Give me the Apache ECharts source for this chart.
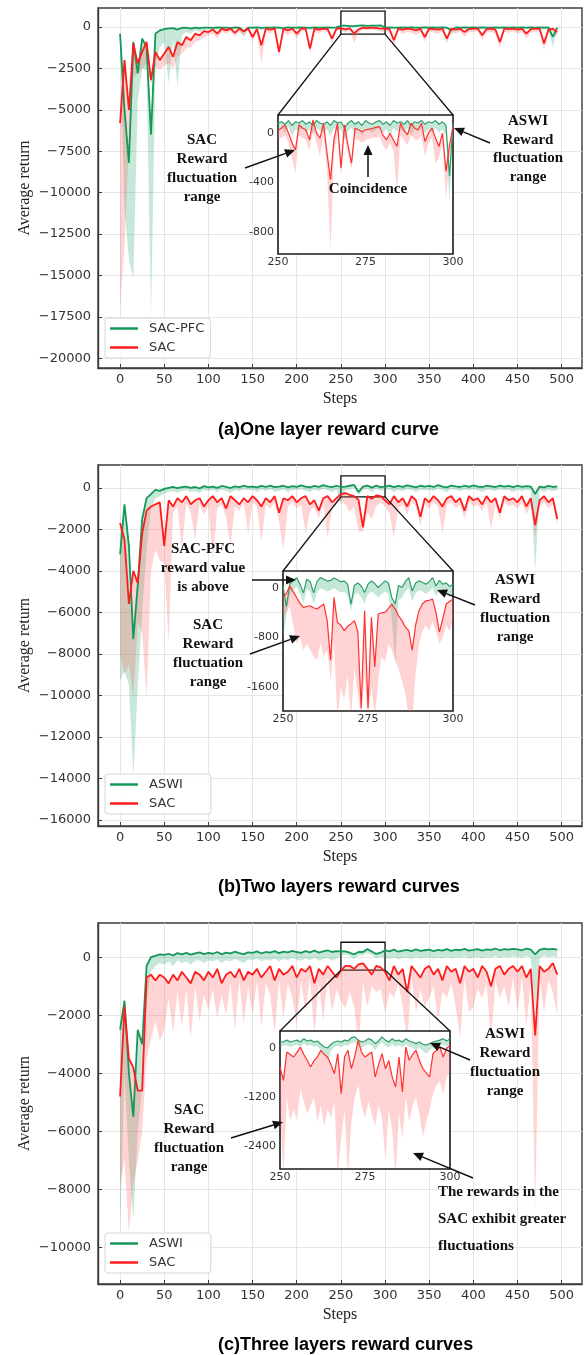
<!DOCTYPE html>
<html lang="en">
<head>
<meta charset="UTF-8">
<title>Reward curves</title>
<script src="https://cdn.jsdelivr.net/npm/echarts@6/dist/echarts.min.js"></script>
<style>
    html, body { margin: 0; padding: 0; background: #fff; }
    #chart { width: 587px; height: 1355px; }
</style>
</head>
<body>
<div id="chart"></div>
<script>
// ---- tick labels ----
var mainXTicks = [0, 50, 100, 150, 200, 250, 300, 350, 400, 450, 500];
var aYTicks = [0, -2500, -5000, -7500, -10000, -12500, -15000, -17500, -20000];
var bYTicks = [0, -2000, -4000, -6000, -8000, -10000, -12000, -14000, -16000];
var cYTicks = [0, -2000, -4000, -6000, -8000, -10000];
var aInsetYTicks = [0, -400, -800];
var bInsetYTicks = [0, -800, -1600];
var cInsetYTicks = [0, -1200, -2400];

// ---- (a) one layer, main chart, sampled every 5 steps (0..495) ----
var aGreen = [
    -400, -5000, -8200, -900, -2800, -700, -1200, -6500, -400, -200,
    -120, -80, -60, -150, -50, -40, -90, -30, -60, -40,
    -30, -50, -20, -40, -30, -60, -20, -30, -250, -40,
    -30, -20, -50, -30, -40, -20, -30, -60, -20, -30,
    -40, -20, -30, -50, -20, -30, -40, -20, -30, -20,
    80, 90, 60, 60, 80, 100, 70, 90, 80, 100,
    -30, -20, -30, -40, -20, -30, -20, -30, -40, -20,
    -30, -20, -40, -20, -30, -200, -20, -30, -20, -40,
    -20, -30, -20, -40, -30, -20, -30, -20, -30, -20,
    -40, -20, -30, -20, -30, -20, -40, -20, -600, -30
];
var aGreenLow = [
    -1500, -11000, -14000, -15200, -4500, -2500, -2600, -17500, -2500, -1200,
    -900, -3400, -700, -3600, -500, -300, -400, -200, -300, -200,
    -150, -200, -100, -150, -120, -200, -100, -150, -600, -150,
    -120, -100, -200, -120, -150, -100, -120, -200, -100, -120,
    -150, -100, -120, -200, -100, -120, -150, -100, -120, -100,
    20, 30, -10, -20, 20, 40, 0, 30, 10, 40,
    -120, -100, -120, -150, -100, -120, -100, -120, -150, -100,
    -120, -100, -150, -100, -120, -500, -100, -120, -100, -150,
    -100, -120, -100, -150, -120, -100, -120, -100, -120, -100,
    -150, -100, -120, -100, -120, -100, -150, -100, -1200, -120
];
var aRed = [
    -5800, -2000, -5000, -1000, -2200, -1500, -900, -3200, -1500, -2000,
    -1600, -1200, -1800, -900, -1100, -600, -800, -400, -500, -250,
    -300, -150, -400, -100, -200, -80, -350, -100, -250, -90,
    -600, -120, -1100, -100, -150, -80, -1500, -100, -200, -90,
    -400, -100, -80, -1300, -100, -150, -90, -120, -700, -100,
    -60, -140, -80, -380, -150, -40, -60, -30, -50, -100,
    -100, -120, -800, -90, -150, -100, -120, -200, -100, -600,
    -90, -120, -150, -100, -700, -90, -150, -100, -300, -120,
    -100, -90, -500, -120, -100, -150, -900, -100, -120, -90,
    -150, -100, -400, -120, -100, -90, -1000, -150, -100, -300
];
var aRedLow = [
    -17000, -13200, -7000, -3000, -2800, -2500, -2200, -3500, -2400, -2600,
    -2300, -2200, -2500, -1800, -1600, -1300, -1200, -900, -800, -600,
    -500, -400, -700, -300, -400, -250, -600, -300, -500, -200,
    -900, -300, -2200, -250, -400, -200, -1800, -300, -500, -250,
    -700, -300, -200, -1600, -300, -400, -250, -300, -1000, -250,
    -200, -330, -200, -960, -350, -150, -200, -150, -200, -250,
    -300, -350, -1100, -250, -400, -300, -350, -500, -300, -900,
    -250, -350, -400, -300, -1000, -250, -400, -300, -600, -300,
    -300, -250, -800, -350, -300, -400, -1300, -300, -350, -250,
    -400, -300, -700, -350, -300, -250, -1400, -400, -300, -600
];

// ---- (b) two layers, main chart ----
var bGreen = [
    -3200, -800, -2800, -7300, -4700, -1500, -500, -300, -100, -150,
    -50, 0, 50, -20, 30, 60, 0, 40, -30, 80,
    20, 60, 0, 90, 40, -10, 70, 30, 100, 50,
    60, 20, 90, 40, 110, 30, 60, 100, 20, 80,
    50, 120, 60, 20, 90, 40, 130, 70, 30, 100,
    40, 60, 100, 140, -200, 60, 110, 10, 110, 30,
    60, 110, 30, 90, 50, 120, 70, 20, 100, 60,
    90, 40, 130, 60, 20, 110, 70, 40, 100, 50,
    120, 60, 30, 100, 70, 40, 110, 60, 90, 30,
    100, 50, 80, 60, -300, 60, 20, 90, 40, 70
];
var bGreenLow = [
    -9300, -8800, -9500, -13900, -9600, -6000, -3000, -1000, -500, -400,
    -300, -200, -150, -250, -150, -100, -200, -150, -250, -100,
    -150, -100, -200, -80, -150, -250, -100, -150, -80, -100,
    -100, -200, -80, -150, -60, -200, -150, -80, -200, -100,
    -120, -60, -150, -200, -80, -150, -50, -100, -200, -80,
    -800, -100, -80, 0, -370, -100, -60, -200, -40, -140,
    -120, -60, -200, -100, -150, -60, -100, -200, -80, -120,
    -100, -150, -50, -120, -200, -60, -100, -150, -80, -120,
    -60, -120, -200, -80, -100, -150, -60, -120, -100, -200,
    -80, -150, -100, -120, -4000, -120, -200, -100, -150, -120
];
var bRed = [
    -1700, -2500, -5600, -4000, -4600, -2200, -1100, -900, -800, -700,
    -2800, -600, -900, -500, -700, -400, -800, -600, -500, -900,
    -600, -400, -700, -500, -1000, -400, -600, -800, -500, -700,
    -400, -600, -900, -500, -700, -400, -1200, -500, -600, -400,
    -700, -500, -400, -800, -600, -1100, -500, -400, -700, -500,
    -300, -250, -340, -400, -580, -1900, -400, -530, -370, -400,
    -600, -800, -400, -700, -500, -900, -400, -600, -1400, -500,
    -700, -400, -600, -900, -500, -400, -700, -500, -1100, -400,
    -600, -500, -800, -400, -700, -500, -1200, -400, -600, -500,
    -700, -400, -900, -500, -1800, -600, -400, -700, -500, -1500
];
var bRedLow = [
    -8000, -9000, -8500, -10100, -6500, -7000, -10100, -4000, -3000, -3500,
    -3600, -7400, -1200, -900, -3000, -700, -1200, -2500, -800, -1300,
    -900, -3500, -1000, -800, -1400, -2800, -900, -1100, -700, -2200,
    -700, -900, -2600, -800, -1000, -700, -1600, -3000, -900, -700,
    -1000, -800, -2200, -1100, -900, -1500, -700, -2400, -1000, -800,
    -600, -800, -1170, -900, -2100, -2100, -1200, -1500, -900, -700,
    -900, -1200, -2400, -1000, -800, -1300, -700, -900, -1800, -800,
    -1000, -700, -900, -2200, -800, -700, -1000, -800, -1500, -700,
    -900, -800, -1100, -700, -2000, -800, -1500, -700, -900, -800,
    -1000, -700, -1300, -800, -2400, -900, -700, -1000, -800, -1800
];

// ---- (c) three layers, main chart ----
var cGreen = [
    -2500, -1500, -4000, -5500, -2500, -3000, -300, 0, 50, 100,
    80, 120, 60, 140, 100, 150, 90, 130, 170, 110,
    150, 120, 180, 100, 160, 130, 190, 140, 110, 170,
    150, 200, 130, 180, 160, 210, 140, 190, 170, 220,
    180, 150, 210, 170, 230, 160, 200, 240, 180, 210,
    200, 200, 155, 100, 180, 180, 280, 200, 114, 155,
    240, 200, 260, 190, 230, 250, 210, 270, 220, 240,
    260, 210, 250, 230, 280, 220, 260, 240, 290, 230,
    250, 280, 230, 270, 250, 300, 240, 280, 260, 290,
    270, 240, 300, 260, 100, 250, 300, 270, 290, 260
];
var cGreenLow = [
    -9500, -4000, -7000, -9000, -6000, -4500, -1500, -500, -300, -200,
    -250, -150, -300, -100, -200, -150, -250, -120, -100, -200,
    -100, -150, -80, -200, -100, -150, -60, -120, -200, -80,
    -100, -50, -150, -80, -120, -40, -150, -60, -100, -30,
    -80, -120, -40, -100, -20, -120, -60, -30, -100, -50,
    40, 90, 40, -60, 60, 60, 150, 80, -40, 20,
    -20, -60, 0, -80, -30, -20, -60, 10, -40, -20,
    0, -50, -10, -40, 20, -50, 0, -30, 30, -40,
    -20, 20, -40, 10, -20, 40, -30, 20, -10, 30,
    10, -30, 40, -10, -1800, -20, 50, 0, 30, -10
];
var cRed = [
    -4800, -1700, -3500, -3800, -4600, -4600, -700, -600, -800, -600,
    -700, -900, -600, -800, -500, -700, -900, -500, -600, -800,
    -500, -700, -400, -900, -600, -500, -700, -400, -800, -500,
    -600, -400, -700, -500, -300, -800, -400, -600, -500, -300,
    -700, -400, -500, -300, -900, -400, -600, -300, -500, -700,
    -460, -300, -300, -400, -250, -210, -400, -600, -300, -350,
    -500, -800, -300, -600, -400, -1200, -300, -500, -700, -400,
    -300, -600, -400, -800, -300, -500, -400, -900, -300, -500,
    -400, -700, -300, -500, -1000, -400, -300, -600, -400, -300,
    -500, -300, -700, -400, -2700, -300, -500, -400, -200, -600
];
var cRedLow = [
    -7900, -7000, -9500, -7800, -7000, -6000, -3500, -2800, -2200, -2870,
    -2500, -1400, -2600, -1200, -2400, -1100, -2800, -1000, -2200, -1300,
    -1800, -1100, -2100, -1300, -2000, -900, -2500, -800, -2300, -1000,
    -2000, -800, -2400, -900, -1300, -2600, -800, -2100, -900, -1400,
    -2300, -800, -1900, -700, -2700, -900, -2200, -700, -1900, -1100,
    -1500, -1765, -1200, -1700, -3100, -900, -1700, -1000, -1200, -1100,
    -1900, -1200, -1400, -900, -1700, -3000, -700, -1900, -1100, -1700,
    -1400, -1000, -2200, -1200, -1400, -900, -1700, -2800, -700, -1900,
    -1700, -1100, -1400, -900, -2900, -800, -1400, -1000, -1700, -700,
    -1900, -700, -2400, -800, -8700, -700, -1900, -800, -1200, -2000
];

// ---- zoomed insets, steps 250..300 ----
var iaGreen = [
    80, 90, 70, 100, 60, 90, 80, 100, 70, 90,
    60, 100, 80, 70, 90, 60, 100, 80, 90, 40,
    80, 100, 70, 90, 60, 100, 80, 70, 90, 100,
    70, 90, 60, 100, 80, 90, 70, 100, 60, 90,
    80, 100, 70, 90, 80, 100, 70, 90, 60, -350, 80
];
var iaGreenLow = [
    20, 40, 0, 50, -20, 30, 20, 40, 0, 30,
    -10, 40, 20, 0, 30, -20, 40, 10, 30, -60,
    20, 40, 0, 30, -20, 40, 20, 0, 30, 40,
    0, 30, -20, 40, 10, 30, 0, 40, -20, 30,
    10, 40, 0, 30, 10, 40, 0, 30, -20, -560, 20
];
var iaRed = [
    20, 40, 65, 0, -80, -137, 65, 40, 25, -56,
    105, 0, -43, 78, -164, -379, -50, 78, -285, 65,
    -100, -245, 38, 25, 10, 25, 30, 38, 45, 51,
    -20, -56, -2, -60, -110, 78, 20, -16, 78, 40,
    25, 78, -70, 0, 38, -40, -110, -2, -312, -100, 51
];
var iaRedLow = [
    -60, -40, -20, -80, -200, -325, -20, -40, -60, -140,
    20, -80, -191, -20, -300, -957, -150, -20, -352, -20,
    -180, -300, -50, -60, -80, -60, -50, -40, -40, -30,
    -100, -140, -80, -150, -487, -20, -60, -100, -20, -50,
    -60, -20, -191, -80, -40, -245, -200, -80, -540, -200, -30
];
var ibGreen = [
    30, -300, 60, 120, 165, 60, -80, 140, 100, -80,
    100, 165, 140, 110, 120, 160, 130, 100, 110, 60,
    -261, 40, 80, 30, -74, 60, 110, 70, 6, 60,
    112, 80, -154, -261, 40, 6, 100, 165, -50, 80,
    112, 90, 59, 100, 165, 30, 120, 59, 80, 20, 60
];
var ibGreenLow = [
    -800, -450, -100, -40, 20, -100, -250, -20, -60, -260,
    -80, 0, -30, -60, -40, 0, -40, -80, -60, -120,
    -370, -120, -80, -150, -250, -100, -60, -100, -160, -100,
    -60, -100, -500, -1220, -200, -160, -60, 0, -220, -80,
    -40, -60, -100, -60, 0, -140, -40, -100, -80, -150, -100
];
var ibRed = [
    -154, -90, 32, -60, -154, -250, -314, -300, -288, -320,
    -341, -300, -261, -528, -1168, -154, -554, -600, -688, -620,
    -581, -528, -700, -1940, -368, -1940, -474, -1274, -421, -400,
    -394, -330, -261, -341, -450, -528, -634, -688, -1007, -600,
    -368, -260, -208, -200, -181, -400, -714, -500, -261, -220, -181
];
var ibRedLow = [
    -500, -400, -300, -600, -900, -800, -1007, -900, -1000, -1100,
    -1168, -900, -1100, -1000, -1500, -900, -2100, -1600, -1800, -1400,
    -2100, -1300, -1700, -2100, -1400, -2100, -1600, -2100, -1500, -1100,
    -1200, -900, -1000, -1168, -1300, -1500, -1700, -2100, -2100, -1400,
    -900, -700, -600, -700, -528, -700, -900, -800, -600, -700, -500
];
var icGreen = [
    155, 160, 200, 155, 180, 200, 155, 237, 180, 200,
    155, 180, 100, 32, 11, 100, 155, 180, 155, 200,
    180, 260, 280, 200, 155, 180, 237, 200, 114, 180,
    280, 200, 155, 237, 180, 200, 155, 237, 180, 155,
    114, 155, 100, 80, 114, 155, 180, 200, 237, 180, 237
];
var icGreenLow = [
    40, 60, 80, 20, 60, 90, 40, 120, 60, 80,
    40, 50, -50, -150, -294, -60, 30, 60, 20, 80,
    60, 130, 150, 60, 20, 60, 100, 60, -40, 60,
    150, 60, 20, 100, 40, 80, 20, 100, 40, 20,
    -40, 20, -60, -131, -50, 20, 40, 80, 100, 40, 100
];
var icRed = [
    -458, -785, -90, -150, -213, -100, 32, -150, -294, -458,
    -300, -213, -49, -150, -213, -400, -621, -131, -1111, -200,
    -49, -499, -200, 196, -100, -213, -150, -90, -703, -400,
    -131, -499, -300, -700, -948, -213, -1071, 32, -294, -150,
    -49, -300, -499, -600, -703, -131, -50, 32, -213, 0, 73
];
var icRedLow = [
    -1500, -3100, -1200, -1765, -1500, -1765, -1000, -1300, -1600, -1400,
    -1200, -1800, -1400, -1900, -1500, -1700, -1300, -3100, -2200, -1500,
    -3100, -1800, -1200, -900, -1400, -1700, -1300, -1600, -1900, -1400,
    -1700, -2745, -1500, -2000, -3100, -1600, -2200, -1200, -1800, -1400,
    -1200, -1600, -2173, -1800, -1500, -1111, -900, -800, -1111, -700, -600
];

// sampling positions
var mainSteps = [], insetSteps = [];
for (var i = 0; i < aGreen.length; i++) mainSteps.push(i * 5);
for (var j = 250; j <= 300; j++) insetSteps.push(j);

var RED = '#ff1c1c', GREEN = '#14985a';
var SERIF = '"Liberation Serif", "DejaVu Serif", serif';

var panels = [
    {top: 8, height: 360, yMin: -20590, yMax: 1150, yTicks: aYTicks, greenName: 'SAC-PFC',
        green: aGreen, greenLow: aGreenLow, red: aRed, redLow: aRedLow, legendTop: 318,
        zoomBox: [-423, 966],
        inset: {left: 278, top: 115, width: 175, height: 139, yMin: -980, yMax: 145, yTicks: aInsetYTicks,
            green: iaGreen, greenLow: iaGreenLow, red: iaRed, redLow: iaRedLow, dash: [[260, 120], [291, -50]]}},
    {top: 465, height: 361, yMin: -16300, yMax: 1100, yTicks: bYTicks, greenName: 'ASWI',
        green: bGreen, greenLow: bGreenLow, red: bRed, redLow: bRedLow, legendTop: 774,
        zoomBox: [-435, 580],
        inset: {left: 283, top: 571, width: 170, height: 140, yMin: -1984, yMax: 272, yTicks: bInsetYTicks,
            green: ibGreen, greenLow: ibGreenLow, red: ibRed, redLow: ibRedLow, dash: [[254, 192], [262, -272]]}},
    {top: 923, height: 361, yMin: -11265, yMax: 1180, yTicks: cYTicks, greenName: 'ASWI',
        green: cGreen, greenLow: cGreenLow, red: cRed, redLow: cRedLow, legendTop: 1233,
        zoomBox: [-448, 517],
        inset: {left: 280, top: 1031, width: 170, height: 138, yMin: -2956, yMax: 424, yTicks: cInsetYTicks,
            green: icGreen, greenLow: icGreenLow, red: icRed, redLow: icRedLow, dash: [[278.5, 343], [288.2, -2718]]}}
];

function minusFmt(v) { return v < 0 ? '\u2212' + Math.abs(v) : String(v); }
function plainFmt(v) { return String(v); }
function pairs(xs, ys) { return ys.map(function (v, k) { return [xs[k], v]; }); }

var grids = [], xAxes = [], yAxes = [], series = [], legends = [];

// shaded fluctuation range between the low envelope and the mean curve
function band(gi, xs, low, top, color, z) {
    series.push({
        type: 'custom', xAxisIndex: gi, yAxisIndex: gi, silent: true, z: z, clip: true,
        data: xs.map(function (x, k) { return [x, low[k], top[k]]; }),
        encode: {x: 0, y: [1, 2]},
        renderItem: function (params, api) {
            if (params.dataIndex !== 0) return null;
            var pts = [], k;
            for (k = 0; k < xs.length; k++) pts.push(api.coord([xs[k], top[k]]));
            for (k = xs.length - 1; k >= 0; k--) pts.push(api.coord([xs[k], low[k]]));
            var cs = params.coordSys;
            return {
                type: 'polygon', shape: {points: pts}, style: {fill: color},
                clipPath: {type: 'rect', shape: {x: cs.x, y: cs.y, width: cs.width, height: cs.height}}
            };
        }
    });
}
function line(name, gi, xs, ys, color, width, z) {
    return {type: 'line', name: name, xAxisIndex: gi, yAxisIndex: gi, data: pairs(xs, ys), symbol: 'none',
        lineStyle: {color: color, width: width}, itemStyle: {color: color}, silent: true, z: z};
}

panels.forEach(function (p, k) {
    var mg = grids.length, ig = mg + 1, ins = p.inset;
    grids.push({left: 98, top: p.top, width: 484, height: p.height, show: true,
        borderColor: '#3c3c3c', borderWidth: 1.4, backgroundColor: 'transparent'});
    grids.push({left: ins.left, top: ins.top, width: ins.width, height: ins.height, show: true,
        borderColor: '#1a1a1a', borderWidth: 1.6, backgroundColor: '#fff', z: 10});

    xAxes.push({gridIndex: mg, type: 'value', min: -25, max: 523,
        name: 'Steps', nameLocation: 'middle', nameGap: 23, nameMoveOverlap: false,
        nameTextStyle: {fontFamily: SERIF, fontSize: 16, color: '#222'},
        axisLine: {show: true, onZero: false, lineStyle: {color: '#3c3c3c', width: 1.4}},
        axisTick: {show: true, inside: true, length: 4, customValues: mainXTicks, lineStyle: {color: '#3c3c3c'}},
        axisLabel: {customValues: mainXTicks, fontFamily: 'DejaVu Sans', fontSize: 13, color: '#333', margin: 5},
        splitLine: {show: true, lineStyle: {color: '#e6e6e6', width: 1}}});
    yAxes.push({gridIndex: mg, type: 'value', min: p.yMin, max: p.yMax,
        name: 'Average return', nameLocation: 'middle', nameRotate: 90, nameGap: 65, nameMoveOverlap: false,
        nameTextStyle: {fontFamily: SERIF, fontSize: 16, color: '#222'},
        axisLine: {show: true, onZero: false, lineStyle: {color: '#3c3c3c', width: 1.4}},
        axisTick: {show: true, inside: true, length: 4, customValues: p.yTicks, lineStyle: {color: '#3c3c3c'}},
        axisLabel: {customValues: p.yTicks, formatter: minusFmt, fontFamily: 'DejaVu Sans', fontSize: 13, color: '#333', margin: 7},
        splitLine: {show: true, lineStyle: {color: '#e6e6e6', width: 1}}});

    xAxes.push({gridIndex: ig, type: 'value', min: 250, max: 300, interval: 25, z: 11,
        axisLine: {show: false}, axisTick: {show: false}, splitLine: {show: false},
        axisLabel: {formatter: plainFmt, fontFamily: 'DejaVu Sans', fontSize: 11, color: '#333', margin: 3}});
    yAxes.push({gridIndex: ig, type: 'value', min: ins.yMin, max: ins.yMax, z: 11,
        axisLine: {show: false, onZero: false}, axisTick: {show: false, customValues: ins.yTicks}, splitLine: {show: false},
        axisLabel: {customValues: ins.yTicks, formatter: plainFmt, fontFamily: 'DejaVu Sans', fontSize: 11, color: '#333', margin: 4}});

    // main chart
    band(mg, mainSteps, p.greenLow, p.green, 'rgba(40,165,105,0.26)', 2);
    band(mg, mainSteps, p.redLow, p.red, 'rgba(255,90,90,0.26)', 2);
    series.push(line(p.greenName, mg, mainSteps, p.green, GREEN, 1.8, 3));
    var redMain = line('SAC', mg, mainSteps, p.red, RED, 1.8, 3);
    redMain.markArea = {silent: true, itemStyle: {color: 'rgba(0,0,0,0)', borderColor: '#111', borderWidth: 1.3},
        data: [[{coord: [250, p.zoomBox[1]]}, {coord: [300, p.zoomBox[0]]}]]};
    series.push(redMain);

    // inset
    band(ig, insetSteps, ins.greenLow, ins.green, 'rgba(60,175,125,0.30)', 11);
    band(ig, insetSteps, ins.redLow, ins.red, 'rgba(255,110,110,0.30)', 11);
    series.push(line(p.greenName + ' zoom', ig, insetSteps, ins.green, '#2f9d68', 1.2, 12));
    var rIn = line('SAC zoom', ig, insetSteps, ins.red, '#ff3030', 1.2, 12);
    rIn.markArea = {silent: true, itemStyle: {color: 'rgba(0,0,0,0)', borderColor: '#333', borderWidth: 1.4, borderType: [4, 3]},
        data: [[{coord: ins.dash[0]}, {coord: ins.dash[1]}]]};
    series.push(rIn);

    legends.push({left: 105, top: p.legendTop, orient: 'vertical', data: [p.greenName, 'SAC'],
        icon: 'rect', itemWidth: 28, itemHeight: 2.5, itemGap: 6, selectedMode: false,
        padding: k === 0 ? [4, 6, 4, 5] : [4, 28, 4, 5],
        borderColor: '#d6d6d6', borderWidth: 1, borderRadius: 3, backgroundColor: 'rgba(255,255,255,0.85)',
        textStyle: {fontFamily: 'DejaVu Sans', fontSize: 13, color: '#333', padding: [0, 0, 0, 6]}, z: 20});
});

var chart = echarts.init(document.getElementById('chart'));
chart.setOption({
    animation: false,
    backgroundColor: '#fff',
    grid: grids, xAxis: xAxes, yAxis: yAxes, legend: legends, series: series
});

// ---- annotations ----
var NOTE_FONT = 'bold 15px ' + SERIF;
function note(text, x, y, lh, align) {
    return {type: 'text', x: x, y: y, z: 30, silent: true,
        style: {text: text, fill: '#111', font: NOTE_FONT, align: align || 'center', verticalAlign: 'top', lineHeight: lh}};
}
function arrow(x1, y1, x2, y2) {
    var ang = Math.atan2(y2 - y1, x2 - x1), L = 10, W = 4.5;
    var bx = x2 - L * Math.cos(ang), by = y2 - L * Math.sin(ang);
    var px = -Math.sin(ang) * W, py = Math.cos(ang) * W;
    return [
        {type: 'line', z: 30, silent: true, shape: {x1: x1, y1: y1, x2: bx, y2: by}, style: {stroke: '#111', lineWidth: 1.5}},
        {type: 'polygon', z: 30, silent: true, shape: {points: [[x2, y2], [bx + px, by + py], [bx - px, by - py]]}, style: {fill: '#111'}}
    ];
}
function caption(text, y) {
    return {type: 'text', x: 218, y: y, z: 30, silent: true,
        style: {text: text, fill: '#000', font: 'bold 18px "Liberation Sans", Arial, sans-serif', align: 'left', verticalAlign: 'middle'}};
}

var g = [];
panels.forEach(function (p, k) {
    var mg = 2 * k, ig = mg + 1;
    var a0 = chart.convertToPixel({gridIndex: mg}, [250, p.zoomBox[0]]);
    var a1 = chart.convertToPixel({gridIndex: mg}, [300, p.zoomBox[0]]);
    var b0 = chart.convertToPixel({gridIndex: ig}, [250, p.inset.yMax]);
    var b1 = chart.convertToPixel({gridIndex: ig}, [300, p.inset.yMax]);
    g.push({type: 'line', z: 25, silent: true, shape: {x1: a0[0], y1: a0[1], x2: b0[0], y2: b0[1]}, style: {stroke: '#111', lineWidth: 1.3}});
    g.push({type: 'line', z: 25, silent: true, shape: {x1: a1[0], y1: a1[1], x2: b1[0], y2: b1[1]}, style: {stroke: '#111', lineWidth: 1.3}});
});

g.push(caption('(a)One layer reward curve', 430));
g.push(caption('(b)Two layers reward curves', 887));
g.push(caption('(c)Three layers reward curves', 1345));

// (a)
g.push(note('SAC\nReward\nfluctuation\nrange', 202, 131, 19));
g.push(note('Coincidence', 368, 180, 19));
g.push(note('ASWI\nReward\nfluctuation\nrange', 528, 112, 18.5));
g = g.concat(arrow(245, 168, 295, 150), arrow(368, 177, 368, 145), arrow(490, 143, 454, 128));
// (b)
g.push(note('SAC-PFC\nreward value\nis above', 203, 540, 19));
g.push(note('SAC\nReward\nfluctuation\nrange', 208, 616, 19));
g.push(note('ASWI\nReward\nfluctuation\nrange', 515, 571, 19));
g = g.concat(arrow(252, 580, 296, 580), arrow(250, 654, 300, 636), arrow(475, 605, 437, 590));
// (c)
g.push(note('ASWI\nReward\nfluctuation\nrange', 505, 1024, 19.3));
g.push(note('SAC\nReward\nfluctuation\nrange', 189, 1101, 19));
g.push(note('The rewards in the\nSAC exhibit greater\nfluctuations', 438, 1179, 27, 'left'));
g = g.concat(arrow(470, 1060, 430, 1043), arrow(231, 1138, 283, 1122), arrow(473, 1178, 413, 1153));

chart.setOption({graphic: g});
</script>
</body>
</html>
